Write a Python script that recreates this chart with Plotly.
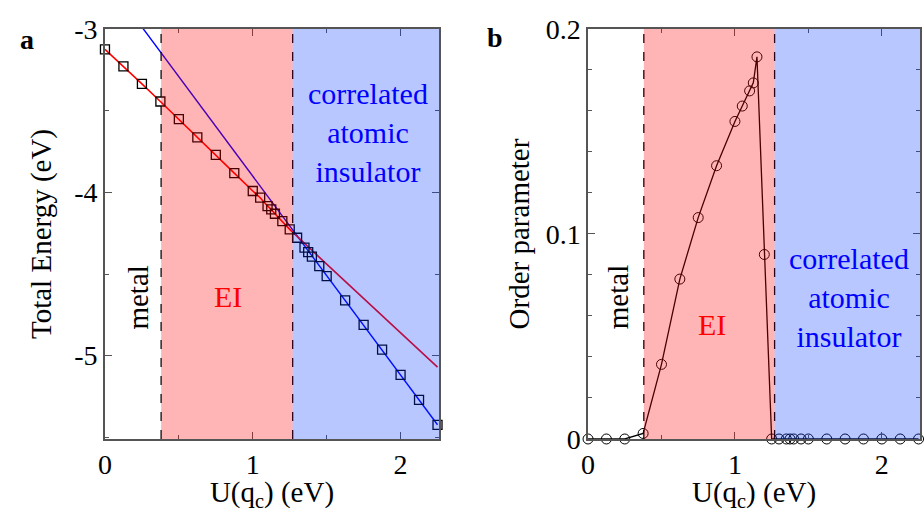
import plotly.graph_objects as go

# ---- data ----
u_pts = [0, 0.125, 0.25, 0.375, 0.5, 0.625, 0.75, 0.875, 1.0, 1.05, 1.1, 1.125, 1.15,
         1.2, 1.25, 1.3, 1.35, 1.375, 1.4, 1.45, 1.5, 1.625, 1.75, 1.875, 2.0, 2.125, 2.25]
energy = [-3.125, -3.229, -3.336, -3.444, -3.552, -3.663, -3.771, -3.882, -3.992, -4.033,
          -4.084, -4.104, -4.131, -4.176, -4.227, -4.278, -4.339, -4.366, -4.394, -4.452,
          -4.513, -4.661, -4.812, -4.963, -5.117, -5.270, -5.423]
ei_u = [0, 0.125, 0.25, 0.375, 0.5, 0.625, 0.75, 0.875, 1.0, 1.05, 1.1, 1.125, 1.15, 1.2,
        1.25, 1.5, 1.75, 2.0, 2.25]
ei_e = [-3.125, -3.229, -3.336, -3.444, -3.552, -3.663, -3.771, -3.882, -3.992, -4.033,
        -4.084, -4.104, -4.131, -4.176, -4.227, -4.44, -4.65, -4.86, -5.07]
ins_u = [0.2, 2.25]
ins_e = [-2.927, -5.423]
order_param = [0, 0, 0, 0.0027, 0.0364, 0.078, 0.108, 0.1333, 0.1549, 0.1624, 0.1698,
               0.1737, 0.1864, 0.090, 0, 0, 0, 0, 0, 0, 0, 0, 0, 0, 0, 0, 0]
boundaries = [0.38, 1.27]
x_max = 2.26
FONT = "Liberation Serif, Times New Roman, DejaVu Serif, serif"
tick_font = dict(family=FONT, size=28, color="black")

fig = go.Figure()

# panel a
fig.add_trace(go.Scatter(x=ins_u, y=ins_e, mode="lines", line=dict(color="#0000ff", width=1.4),
                         xaxis="x", yaxis="y", showlegend=False))
fig.add_trace(go.Scatter(x=ei_u, y=ei_e, mode="lines", line=dict(color="#ff0000", width=1.6),
                         xaxis="x", yaxis="y", showlegend=False))
fig.add_trace(go.Scatter(x=u_pts, y=energy, mode="markers",
                         marker=dict(symbol="square-open", size=9, color="black", line=dict(width=1.3)),
                         xaxis="x", yaxis="y", showlegend=False, cliponaxis=False))
# panel b
fig.add_trace(go.Scatter(x=u_pts, y=order_param, mode="lines+markers",
                         line=dict(color="black", width=1.3),
                         marker=dict(symbol="circle-open", size=10, color="black", line=dict(width=1)),
                         xaxis="x2", yaxis="y2", showlegend=False, cliponaxis=False))

shapes = []
for xr, yr in (("x", "y"), ("x2", "y2")):
    ydom = f"{yr} domain"
    for b in boundaries:
        shapes.append(dict(type="line", xref=xr, yref=ydom, x0=b, x1=b, y0=0, y1=1,
                           line=dict(color="black", width=1.3, dash="dash"), layer="above"))
    shapes.append(dict(type="rect", xref=xr, yref=ydom, x0=boundaries[0], x1=boundaries[1], y0=0, y1=1,
                       fillcolor="rgba(255,0,0,0.29)", line=dict(width=0), layer="above"))
    shapes.append(dict(type="rect", xref=xr, yref=ydom, x0=boundaries[1], x1=x_max, y0=0, y1=1,
                       fillcolor="rgba(0,55,255,0.28)", line=dict(width=0), layer="above"))

ax_common = dict(showgrid=False, zeroline=False, showline=True, linecolor="#555555", linewidth=1.5,
                 mirror="ticks", ticks="inside", ticklen=7, tickwidth=1.3, tickcolor="#555555",
                 tickfont=tick_font, automargin=False)
title_font = dict(family=FONT, size=29, color="black")

fig.update_layout(
    width=924, height=512, margin=dict(l=0, r=0, t=0, b=0),
    paper_bgcolor="white", plot_bgcolor="white",
    font=dict(family=FONT, color="black"),
    shapes=shapes,
    xaxis=dict(domain=[0.1136, 0.4751], range=[0, x_max], anchor="y",
               tickvals=[0, 1, 2], ticktext=["0", "1", "2"],
               minor=dict(tickvals=[0.5, 1.5], ticks="inside", ticklen=4, tickcolor="#555555"),
               title=dict(text="U(q<sub>c</sub>) (eV)", font=title_font, standoff=2),
               **ax_common),
    yaxis=dict(domain=[0.1426, 0.9434], range=[-5.51, -3.0], anchor="x",
               tickvals=[-5, -4, -3], ticktext=["-5", "-4", "-3"],
               minor=dict(tickvals=[-5.5, -4.5, -3.5], ticks="inside", ticklen=4, tickcolor="#555555"),
               title=dict(text="Total Energy (eV)", font=title_font, standoff=14),
               **ax_common),
    xaxis2=dict(domain=[0.6364, 0.9957], range=[0, x_max], anchor="y2",
                tickvals=[0, 1, 2], ticktext=["0", "1", "2"],
                minor=dict(tickvals=[0.5, 1.5], ticks="inside", ticklen=4, tickcolor="#555555"),
                title=dict(text="U(q<sub>c</sub>) (eV)", font=title_font, standoff=2),
                **ax_common),
    yaxis2=dict(domain=[0.1426, 0.9434], range=[0, 0.2], anchor="x2",
                tickvals=[0, 0.1, 0.2], ticktext=["0", "0.1", "0.2"],
                minor=dict(tickvals=[0.02, 0.04, 0.06, 0.08, 0.12, 0.14, 0.16, 0.18], ticks="inside",
                           ticklen=4, tickcolor="#555555"),
                title=dict(text="Order parameter", font=title_font, standoff=8),
                **ax_common),
)

ann = []
ann.append(dict(text="<b>a</b>", x=18/924, y=1-22/512, xref="paper", yref="paper", showarrow=False,
                font=dict(family=FONT, size=28, color="black")))
ann.append(dict(text="<b>b</b>", x=495/924, y=1-20/512, xref="paper", yref="paper", showarrow=False,
                font=dict(family=FONT, size=28, color="black")))
for xr, yr, mx, my, ex, ey, cx, cy in (("x", "y", 0.217, -4.644, 0.835, -4.638, 1.782, -3.632),
                                        ("x2", "y2", 0.2045, 0.0692, 0.845, 0.056, 1.779, 0.0692)):
    ann.append(dict(text="metal", x=mx, y=my, xref=xr, yref=yr, showarrow=False, textangle=-90,
                    font=dict(family=FONT, size=29, color="black")))
    ann.append(dict(text="EI", x=ex, y=ey, xref=xr, yref=yr, showarrow=False,
                    font=dict(family=FONT, size=30, color="#ff0000")))
    ann.append(dict(text="correlated<br>atomic<br>insulator", x=cx, y=cy, xref=xr, yref=yr,
                    showarrow=False, align="center",
                    font=dict(family=FONT, size=30, color="#0000ff")))
fig.update_layout(annotations=ann)

fig.write_html("out.html")
